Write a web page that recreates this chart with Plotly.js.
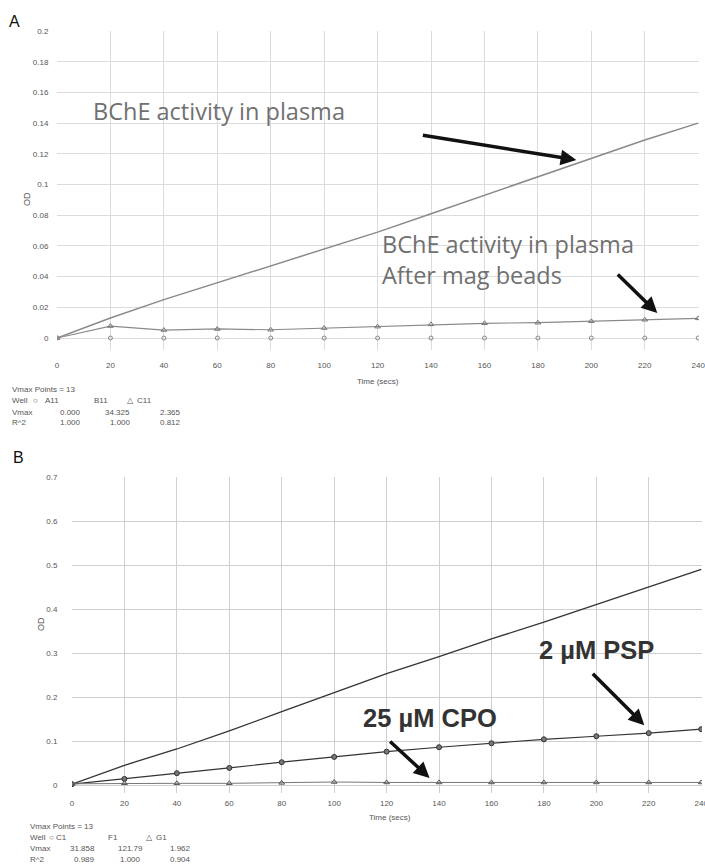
<!DOCTYPE html>
<html>
<head>
<meta charset="utf-8">
<script src="https://cdn.plot.ly/plotly-3.0.1.min.js"></script>
<style>html,body{margin:0;padding:0;background:#fff;}#chart{width:705px;height:865px;}</style>
</head>
<body>
<div id="chart"></div>
<script>
// ---- Data ----
const timeSecs = [0, 20, 40, 60, 80, 100, 120, 140, 160, 180, 200, 220, 240];
const timeTicks = ['0', '20', '40', '60', '80', '100', '120', '140', '160', '180', '200', '220', '240'];

// Panel A
const odTicksA = [0, 0.02, 0.04, 0.06, 0.08, 0.1, 0.12, 0.14, 0.16, 0.18, 0.2];
const odTickTextA = ['0', '0.02', '0.04', '0.06', '0.08', '0.1', '0.12', '0.14', '0.16', '0.18', '0.2'];
const odA11 = [0, 0, 0, 0, 0, 0, 0, 0, 0, 0, 0, 0, 0];
const odB11 = [0, 0.013, 0.025, 0.036, 0.047, 0.058, 0.069, 0.081, 0.093, 0.105, 0.117, 0.129, 0.14];
const odC11 = [0, 0.0078, 0.0052, 0.0059, 0.0054, 0.0065, 0.0074, 0.0089, 0.0096, 0.0100, 0.0109, 0.0119, 0.0128];
const wellsA = ['A11', 'B11', 'C11'];
const vmaxA = ['0.000', '34.325', '2.365'];
const r2A = ['1.000', '1.000', '0.812'];

// Panel B
const odTicksB = [0, 0.1, 0.2, 0.3, 0.4, 0.5, 0.6, 0.7];
const odTickTextB = ['0', '0.1', '0.2', '0.3', '0.4', '0.5', '0.6', '0.7'];
const odC1 = [0.002, 0.014, 0.027, 0.039, 0.052, 0.064, 0.076, 0.086, 0.095, 0.104, 0.111, 0.118, 0.127];
const odF1 = [0.002, 0.045, 0.082, 0.123, 0.167, 0.21, 0.253, 0.292, 0.332, 0.37, 0.41, 0.45, 0.49];
const odG1 = [0.003, 0.004, 0.004, 0.004, 0.005, 0.007, 0.006, 0.006, 0.006, 0.006, 0.006, 0.006, 0.006];
const wellsB = ['C1', 'F1', 'G1'];
const vmaxB = ['31.858', '121.79', '1.962'];
const r2B = ['0.989', '1.000', '0.904'];

const vmaxPoints = 'Vmax Points = 13';

// ---- Layout helpers ----
const W = 705, H = 865;
const px = x => x / W;
const py = y => 1 - y / H;

const tickFont = {family: 'Arial, Liberation Sans, sans-serif', size: 8, color: '#555'};
const smallFont = {family: 'Arial, Liberation Sans, sans-serif', size: 8, color: '#555'};

const traces = [
  {x: timeSecs, y: odB11, xaxis: 'x', yaxis: 'y', mode: 'lines',
   line: {color: '#8a8a8a', width: 1.5}, name: 'B11'},
  {x: timeSecs, y: odC11, xaxis: 'x', yaxis: 'y', mode: 'lines+markers',
   line: {color: '#8a8a8a', width: 1.2},
   marker: {symbol: 'triangle-up-open', size: 5, color: '#777', line: {width: 1}}, name: 'C11'},
  {x: timeSecs, y: odA11, xaxis: 'x', yaxis: 'y', mode: 'markers',
   marker: {symbol: 'circle-open', size: 4, color: '#888', line: {width: 1}}, name: 'A11'},

  {x: timeSecs, y: odF1, xaxis: 'x2', yaxis: 'y2', mode: 'lines',
   line: {color: '#333', width: 1.3}, name: 'F1'},
  {x: timeSecs, y: odC1, xaxis: 'x2', yaxis: 'y2', mode: 'lines+markers',
   line: {color: '#333', width: 1.2},
   marker: {symbol: 'circle', size: 5, color: '#777', line: {color: '#333', width: 1}}, name: 'C1'},
  {x: timeSecs, y: odG1, xaxis: 'x2', yaxis: 'y2', mode: 'lines+markers',
   line: {color: '#777', width: 1},
   marker: {symbol: 'triangle-up-open', size: 5, color: '#555', line: {width: 1}}, name: 'G1'}
];

const ann = [];
function txt(x, y, t, font, anchor) {
  ann.push({xref: 'paper', yref: 'paper', x: px(x), y: py(y), text: t, showarrow: false,
    xanchor: anchor || 'left', yanchor: 'middle', align: 'left', font: font});
}
// panel letters
txt(7, 21, 'A', {family: 'Arial, Liberation Sans, sans-serif', size: 16, color: '#111'});
txt(11, 458, 'B', {family: 'Arial, Liberation Sans, sans-serif', size: 16, color: '#111'});

// axis titles
ann.push({xref: 'paper', yref: 'paper', x: px(20), y: py(190), text: 'OD', showarrow: false,
  textangle: -90, font: {family: 'Arial, Liberation Sans, sans-serif', size: 9, color: '#555'}});
ann.push({xref: 'paper', yref: 'paper', x: px(34), y: py(633), text: 'OD', showarrow: false,
  textangle: -90, font: {family: 'Arial, Liberation Sans, sans-serif', size: 9, color: '#555'}});
txt(378, 381, 'Time (secs)', smallFont, 'center');
txt(390, 817, 'Time (secs)', smallFont, 'center');

// stats table A
txt(10, 389, vmaxPoints, smallFont);
txt(10, 400, 'Well', smallFont);
txt(31, 400, '○', smallFont);
txt(43, 400, wellsA[0], smallFont);
txt(92, 400, wellsA[1], smallFont);
txt(125, 400, '△', smallFont);
txt(135, 400, wellsA[2], smallFont);
txt(10, 412, 'Vmax', smallFont);
txt(83, 412, vmaxA[0], smallFont, 'right');
txt(132, 412, vmaxA[1], smallFont, 'right');
txt(183, 412, vmaxA[2], smallFont, 'right');
txt(10, 423, 'R^2', smallFont);
txt(83, 423, r2A[0], smallFont, 'right');
txt(133, 423, r2A[1], smallFont, 'right');
txt(183, 423, r2A[2], smallFont, 'right');

// stats table B
txt(28, 826, vmaxPoints, smallFont);
txt(28, 837, 'Well', smallFont);
txt(47, 837, '○', smallFont);
txt(54, 837, wellsB[0], smallFont);
txt(106, 837, wellsB[1], smallFont);
txt(144, 837, '△', smallFont);
txt(154, 837, wellsB[2], smallFont);
txt(28, 848, 'Vmax', smallFont);
txt(97, 848, vmaxB[0], smallFont, 'right');
txt(145, 848, vmaxB[1], smallFont, 'right');
txt(193, 848, vmaxB[2], smallFont, 'right');
txt(28, 859, 'R^2', smallFont);
txt(97, 859, r2B[0], smallFont, 'right');
txt(143, 859, r2B[1], smallFont, 'right');
txt(193, 859, r2B[2], smallFont, 'right');

// callout texts
const calloutA = {family: 'Open Sans, Noto Sans, sans-serif', size: 23.5, color: '#707070'};
txt(91, 111, 'BChE activity in plasma', calloutA);
txt(380, 259, 'BChE activity in plasma<br>After mag beads', calloutA);
const calloutB = {family: 'Liberation Sans, Arial, sans-serif', size: 25.5, color: '#333', weight: 'bold'};
txt(537, 650, '<b>2 µM PSP</b>', calloutB);
txt(361, 718, '<b>25 µM CPO</b>', calloutB);

// arrows (tip in data coords, tail offset in px)
function arrow(xa, ya, x, y, ax, ay) {
  ann.push({xref: xa, yref: ya, x: x, y: y, ax: ax, ay: ay, text: '', showarrow: true,
    arrowhead: 2, arrowsize: 0.9, arrowwidth: 3.5, arrowcolor: '#111'});
}
arrow('x', 'y', 194.4, 0.116, -155, -25);
arrow('x', 'y', 224.7, 0.0163, -41, -40);
arrow('x2', 'y2', 218.3, 0.136, -53, -53);
arrow('x2', 'y2', 136.4, 0.016, -41, -38);

const gridA = '#dcdcdc', gridB = '#cfcfcf';
const layout = {
  width: W, height: H,
  margin: {l: 0, r: 0, t: 0, b: 0},
  paper_bgcolor: '#fff', plot_bgcolor: '#fff',
  showlegend: false,
  font: {family: 'Arial, Liberation Sans, sans-serif'},
  xaxis: {domain: [px(57), px(699)], range: [0, 240.3], tickmode: 'array', tickvals: timeSecs, ticktext: timeTicks,
    anchor: 'y', showgrid: true, gridcolor: gridA, zeroline: false, showline: false, ticklabeloverflow: 'allow',
    ticks: 'outside', ticklen: 7, tickcolor: 'rgba(0,0,0,0)', tickfont: tickFont},
  yaxis: {domain: [py(350), py(31)], range: [-0.0078, 0.2], tickmode: 'array', tickvals: odTicksA, ticktext: odTickTextA,
    anchor: 'x', showgrid: true, gridcolor: gridA, zeroline: false, showline: false,
    ticks: 'outside', ticklen: 6, tickcolor: 'rgba(0,0,0,0)', tickfont: tickFont},
  xaxis2: {domain: [px(72), px(702)], range: [0, 240.3], tickmode: 'array', tickvals: timeSecs, ticktext: timeTicks,
    anchor: 'y2', showgrid: true, gridcolor: gridB, zeroline: false, showline: false, ticklabeloverflow: 'allow',
    ticks: 'outside', ticklen: 2, tickcolor: 'rgba(0,0,0,0)', tickfont: tickFont},
  yaxis2: {domain: [py(793), py(477)], range: [-0.018, 0.7], tickmode: 'array', tickvals: odTicksB, ticktext: odTickTextB,
    anchor: 'x2', showgrid: true, gridcolor: gridB, zeroline: false, showline: false,
    ticks: 'outside', ticklen: 12, tickcolor: 'rgba(0,0,0,0)', tickfont: tickFont},
  annotations: ann
};

Plotly.newPlot('chart', traces, layout, {staticPlot: true, displayModeBar: false});
</script>
</body>
</html>
